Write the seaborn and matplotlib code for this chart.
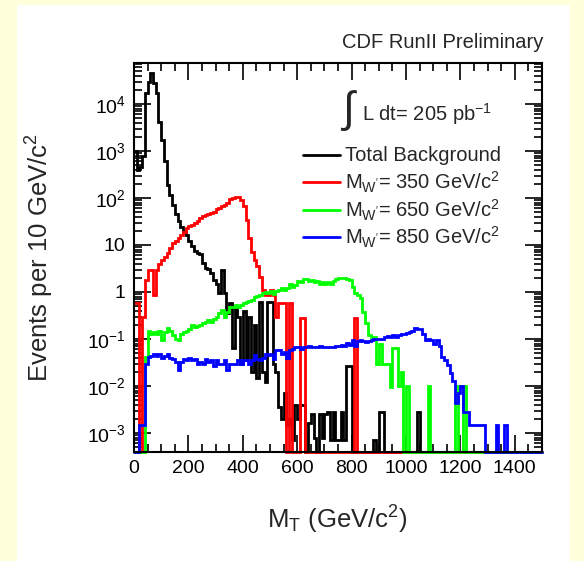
import numpy as np
import pandas as pd
import matplotlib
matplotlib.use("Agg")
import matplotlib.pyplot as plt
import seaborn as sns
from matplotlib.patches import Rectangle
from matplotlib.lines import Line2D
from matplotlib.ticker import FixedLocator, FixedFormatter, MultipleLocator, NullFormatter

# ---------------- data (events per 10 GeV bin, 0 - 1500 GeV) ----------------
bin_width = 10
mt_low_edges = list(range(0, 1500, bin_width))

total_background = [
    1000, 400, 460, 800, 17000, 30000, 45000, 28000, 17000, 4200,
    1700, 600, 190, 115, 70, 45, 32, 24, 19, 16,
    12, 9.5, 7.5, 6.7, 6.5, 4.1, 3.3, 3.1, 2.5, 1.8,
    1.5, 0.95, 2.9, 0.95, 0.35, 0.58, 0.065, 0.49, 0.3, 0.03,
    0.4, 0.035, 0.3, 0.02, 0.2, 0.015, 0.6, 0.02, 0.012, 0.6,
    0.6, 0.03, 0.02, 0.0036, 0.002, 0.007, 0.0015, 0.002, 0.0007, 0.004,
    0.002, 0.004, 0.004, 0, 0.0016, 0.0025, 0.0008, 0, 0.0025, 0.0008,
    0.0025, 0.0028, 0.0007, 0.0028, 0.0007, 0.0007, 0.0028, 0.0007, 0.026, 0.026,
    0, 0, 0, 0, 0, 0, 0, 0, 0.0007, 0,
    0.0028, 0.0028, 0, 0, 0, 0, 0, 0, 0, 0,
    0, 0, 0, 0, 0.0028, 0, 0, 0, 0, 0,
    0, 0, 0, 0, 0, 0, 0, 0, 0, 0,
    0, 0, 0, 0, 0, 0, 0, 0, 0, 0,
    0, 0, 0, 0, 0, 0, 0, 0, 0, 0,
    0, 0, 0, 0, 0, 0, 0, 0, 0, 0,
]

wprime_350 = [
    0.58, 0.58, 0, 0.3, 1.8, 2.9, 2.9, 0.87, 3.0, 4.0,
    4.8, 5.5, 6.6, 8.5, 11, 12, 14, 16, 19, 23,
    25, 27, 29, 33, 38, 42, 44, 46, 48, 51,
    58, 62, 66, 71, 80, 95, 100, 106, 103, 91,
    66, 34, 14, 7.2, 4.8, 3.5, 2.1, 1.1, 0.87, 0.87,
    1.1, 0.87, 0.3, 0.58, 0.58, 0.58, 0, 0.58, 0, 0,
    0, 0.28, 0.28, 0, 0, 0, 0, 0, 0, 0,
    0, 0, 0, 0, 0, 0, 0, 0, 0, 0,
    0, 0.28, 0, 0, 0, 0, 0, 0, 0, 0,
    0, 0, 0, 0, 0, 0, 0, 0, 0, 0,
    0, 0, 0, 0, 0, 0, 0, 0, 0, 0,
    0, 0, 0, 0, 0, 0, 0, 0, 0, 0,
    0, 0, 0, 0, 0, 0, 0, 0, 0, 0,
    0, 0, 0, 0, 0, 0, 0, 0, 0, 0,
    0, 0, 0, 0, 0, 0, 0, 0, 0, 0,
]

wprime_650 = [
    0, 0, 0, 0, 0.042, 0.15, 0.13, 0.14, 0.13, 0.15,
    0.095, 0.14, 0.17, 0.15, 0.12, 0.1, 0.095, 0.13, 0.14, 0.15,
    0.16, 0.2, 0.18, 0.19, 0.2, 0.22, 0.23, 0.25, 0.23, 0.27,
    0.3, 0.35, 0.41, 0.3, 0.38, 0.49, 0.47, 0.52, 0.47, 0.53,
    0.58, 0.62, 0.65, 0.66, 0.8, 0.82, 0.87, 0.95, 1.0, 0.95,
    1.05, 0.9, 1.05, 1.1, 1.2, 1.1, 1.2, 1.5, 1.3, 1.4,
    1.7, 1.6, 1.85, 1.9, 1.7, 1.8, 1.6, 1.7, 1.5, 1.6,
    1.5, 1.6, 1.5, 1.7, 1.85, 1.96, 2.0, 2.0, 1.9, 1.8,
    1.3, 0.94, 0.85, 0.73, 0.38, 0.22, 0.12, 0.11, 0.11, 0.03,
    0.08, 0.03, 0.03, 0.03, 0.0097, 0.063, 0.063, 0.01, 0.02, 0,
    0.01, 0, 0, 0, 0, 0, 0, 0, 0.01, 0,
    0, 0, 0, 0, 0, 0, 0, 0, 0.01, 0,
    0, 0.01, 0, 0, 0, 0, 0, 0, 0, 0,
    0, 0, 0, 0, 0, 0, 0, 0, 0, 0,
    0, 0, 0, 0, 0, 0, 0, 0, 0, 0,
]

wprime_850 = [
    0, 0, 0.0015, 0.0015, 0.03, 0.042, 0.044, 0.047, 0.044, 0.047,
    0.04, 0.044, 0.047, 0.04, 0.037, 0.033, 0.022, 0.033, 0.037, 0.035,
    0.04, 0.035, 0.037, 0.03, 0.033, 0.03, 0.037, 0.033, 0.035, 0.026,
    0.035, 0.03, 0.029, 0.035, 0.022, 0.029, 0.03, 0.029, 0.035, 0.03,
    0.035, 0.035, 0.03, 0.035, 0.045, 0.037, 0.035, 0.04, 0.047, 0.045,
    0.047, 0.037, 0.058, 0.058, 0.047, 0.052, 0.04, 0.058, 0.062, 0.069,
    0.069, 0.062, 0.069, 0.069, 0.07, 0.069, 0.066, 0.069, 0.072, 0.069,
    0.069, 0.066, 0.069, 0.069, 0.072, 0.07, 0.075, 0.072, 0.081, 0.075,
    0.095, 0.07, 0.09, 0.095, 0.09, 0.085, 0.09, 0.095, 0.1, 0.1,
    0.1, 0.1, 0.11, 0.115, 0.11, 0.12, 0.11, 0.12, 0.126, 0.13,
    0.135, 0.14, 0.15, 0.17, 0.165, 0.16, 0.13, 0.095, 0.1, 0.095,
    0.08, 0.095, 0.07, 0.042, 0.035, 0.028, 0.019, 0.013, 0.0043, 0.007,
    0.01, 0.0028, 0.0028, 0.0015, 0.0015, 0.0015, 0.0015, 0.0015, 0.0015, 0,
    0, 0, 0, 0.0015, 0, 0, 0.0015, 0, 0, 0,
    0, 0, 0, 0, 0, 0, 0, 0, 0, 0,
]

series_names = ["Total Background", "350", "650", "850"]
series_values = [total_background, wprime_350, wprime_650, wprime_850]
series_colors = ["#000000", "#ff0000", "#00ff00", "#0000ff"]
legend_labels = [
    "Total Background",
    r"M$_{\mathrm{W'}}$= 350 GeV/c$^{2}$",
    r"M$_{\mathrm{W'}}$= 650 GeV/c$^{2}$",
    r"M$_{\mathrm{W'}}$= 850 GeV/c$^{2}$",
]
y_tick_values = [1e-3, 1e-2, 1e-1, 1, 10, 1e2, 1e3, 1e4]
y_tick_labels = [r"$10^{-3}$", r"$10^{-2}$", r"$10^{-1}$", "1", "10",
                 r"$10^{2}$", r"$10^{3}$", r"$10^{4}$"]
x_tick_values = [0, 200, 400, 600, 800, 1000, 1200, 1400]

# ---------------- style ----------------
sns.set_style("ticks")
plt.rcParams["font.family"] = ["Liberation Sans", "DejaVu Sans"]
plt.rcParams["mathtext.fontset"] = "custom"
plt.rcParams["mathtext.rm"] = "Liberation Sans"
plt.rcParams["mathtext.it"] = "Liberation Sans"
plt.rcParams["mathtext.bf"] = "Liberation Sans:bold"
plt.rcParams["mathtext.default"] = "regular"

W, H = 584, 561
fig = plt.figure(figsize=(W / 100, H / 100), dpi=100)
fig.patch.set_facecolor("#ffffdc")
fig.add_artist(Rectangle((17 / W, 0), (570 - 17) / W, 1 - 5 / H,
                         transform=fig.transFigure, facecolor="white",
                         edgecolor="none", zorder=0))

ax = fig.add_axes([134 / W, 1 - 452 / H, (542 - 134) / W, (452 - 63) / H])
ax.set_facecolor("white")

ymin, ymax = 3.94e-4, 7.45e4
xmax = 1500

rows = []
for name, vals in zip(series_names, series_values):
    xs = mt_low_edges + [xmax]
    ys = list(vals) + [vals[-1]]
    for x, y in zip(xs, ys):
        rows.append({"mt": x, "events": y if y > 0 else ymin, "series": name})
df = pd.DataFrame(rows)

sns.lineplot(data=df, x="mt", y="events", hue="series", hue_order=series_names,
             palette=series_colors, drawstyle="steps-post", estimator=None,
             sort=False, linewidth=2.0, legend=False, ax=ax)
for ln in ax.lines:
    ln.set_clip_on(False)
    ln.set_solid_joinstyle("miter")

ax.set_yscale("log")
ax.set_xlim(0, xmax)
ax.set_ylim(ymin, ymax)
ax.set_xlabel("")
ax.set_ylabel("")

ax.xaxis.set_major_locator(FixedLocator(x_tick_values))
ax.xaxis.set_minor_locator(MultipleLocator(50))
ax.yaxis.set_major_locator(FixedLocator(y_tick_values))
ax.yaxis.set_major_formatter(FixedFormatter(y_tick_labels))
minor_y = [m * 10.0 ** e for e in range(-4, 5) for m in range(2, 10)]
ax.yaxis.set_minor_locator(FixedLocator(minor_y))
ax.yaxis.set_minor_formatter(NullFormatter())

ax.tick_params(which="both", direction="in", top=True, right=True,
               width=1.2, labelsize=14, colors="black")
ax.tick_params(which="major", length=12, pad=6)
ax.tick_params(which="minor", length=6)
for sp in ax.spines.values():
    sp.set_linewidth(1.5)
    sp.set_color("black")
    sp.set_zorder(5)

def fx(px):
    return px / W

def fy(py):
    return 1 - py / H

fig.text(fx(543), fy(43), "CDF RunII Preliminary", ha="right", va="center",
         fontsize=14.5)
fig.text(fx(337), fy(520), r"M$_{T}$ (GeV/c$^{2}$)", ha="center", va="center",
         fontsize=18.5)
fig.text(fx(40), fy(258), r"Events per 10 GeV/c$^{2}$", ha="center", va="center",
         rotation=90, fontsize=18.5)

fig.text(fx(348), fy(111), "\u222b", ha="center", va="center", fontsize=31)
fig.text(fx(362), fy(114), r"L dt= 205 pb$^{-1}$", ha="left", va="center",
         fontsize=14.5)

legend_y = [155, 182, 210, 237]
for lab, col, py in zip(legend_labels, series_colors, legend_y):
    fig.add_artist(Line2D([fx(303), fx(340)], [fy(py), fy(py)], color=col,
                          linewidth=2.0, transform=fig.transFigure))
    fig.text(fx(345), fy(py), lab, ha="left", va="center", fontsize=14.5)

fig.savefig("out.png", dpi=100, facecolor=fig.get_facecolor())
